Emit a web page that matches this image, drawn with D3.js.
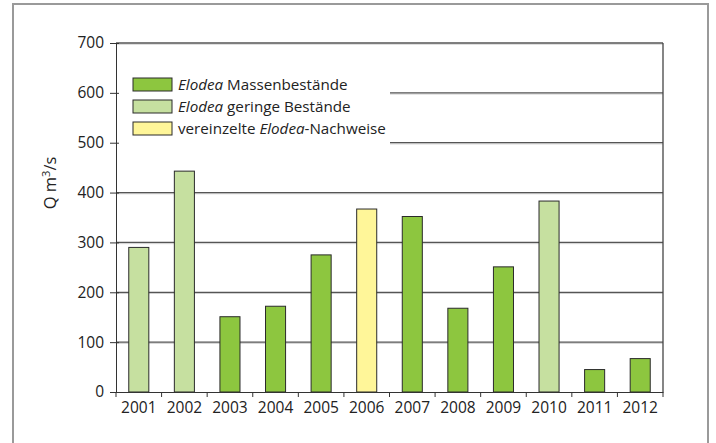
<!DOCTYPE html>
<html><head><meta charset="utf-8">
<script src="https://cdn.jsdelivr.net/npm/d3@7"></script>
<style>body{margin:0;background:#fff}svg{display:block}text{font-family:"Open Sans",sans-serif;fill:#222}</style>
</head><body><svg id="c" width="716" height="443"></svg>
<script>
const years = ["2001","2002","2003","2004","2005","2006","2007","2008","2009","2010","2011","2012"];
const values = [290, 443, 151, 172, 275, 367, 352, 168, 251, 383, 45, 67];
const categories = ["gering","gering","massen","massen","massen","vereinzelt","massen","massen","massen","gering","massen","massen"];
const yTicks = [0,100,200,300,400,500,600,700];
const legendKeys = ["massen","gering","vereinzelt"];
const colors = {massen:"#8dc63f", gering:"#c6e0a0", vereinzelt:"#fff699"};

const svg = d3.select("#c");
const L=116, R=663, T=43, B=392;
const x = d3.scaleBand().domain(years).range([L,R]).paddingInner(0.56).paddingOuter(0.28);
const y = d3.scaleLinear().domain([0,700]).range([B,T]);

// outer frame
svg.append("rect").attr("x",13).attr("y",4).attr("width",695).attr("height",460)
  .attr("fill","none").attr("stroke","#9a9a9a").attr("stroke-width",2);

// gridlines
const g = svg.append("g");
yTicks.filter(d=>d>0).forEach(d=>{
  g.append("line").attr("x1",L).attr("x2",R).attr("y1",y(d)+1.2).attr("y2",y(d)+1.2).attr("stroke","#d0d0d0").attr("stroke-width",1);
  g.append("line").attr("x1",L).attr("x2",R).attr("y1",y(d)).attr("y2",y(d)).attr("stroke","#555").attr("stroke-width",1.3);
});
// right frame
svg.append("line").attr("x1",R).attr("x2",R).attr("y1",T).attr("y2",B).attr("stroke","#444").attr("stroke-width",1.3);

// legend background
svg.append("rect").attr("x",L+1).attr("y",62).attr("width",273).attr("height",88).attr("fill","#fff");

// bars
svg.append("g").selectAll("rect").data(years).join("rect")
  .attr("x",d=>x(d)).attr("width",x.bandwidth())
  .attr("y",(d,i)=>y(values[i])).attr("height",(d,i)=>B-y(values[i]))
  .attr("fill",(d,i)=>colors[categories[i]]).attr("stroke","#2a2a2a").attr("stroke-width",1);

// axes
const ya = svg.append("g").attr("transform",`translate(${L},0)`)
  .call(d3.axisLeft(y).tickValues(yTicks).tickSize(6).tickSizeOuter(0).tickPadding(6));
ya.select(".domain").attr("stroke","#333");
ya.selectAll(".tick line").attr("stroke","#333").attr("x2",3).attr("x1",-6);
ya.selectAll("text").attr("font-size",15.5).attr("font-family","Open Sans").attr("fill","#222");

const xa = svg.append("g").attr("transform",`translate(0,${B})`)
  .call(d3.axisBottom(x).tickSize(0).tickPadding(10));
xa.select(".domain").attr("stroke","#333");
xa.selectAll("text").attr("font-size",15.5).attr("font-family","Open Sans").attr("fill","#222");
const bounds = x.domain().map(d=>x(d)-x.step()*x.paddingInner()/2).concat([R]);
svg.append("g").selectAll("line").data(bounds).join("line")
  .attr("x1",d=>d).attr("x2",d=>d).attr("y1",B).attr("y2",B+5).attr("stroke","#333");

// y label
svg.append("text").attr("transform","translate(56,183) rotate(-90)").attr("text-anchor","middle")
  .attr("font-size",16.5).html('Q m<tspan font-size="11" dy="-6">3</tspan><tspan dy="6">/s</tspan>');

// legend
const leg = svg.append("g");
const labels = [
  [["Elodea",true],[" Massenbestände",false]],
  [["Elodea",true],[" geringe Bestände",false]],
  [["vereinzelte ",false],["Elodea",true],["-Nachweise",false]]
];
legendKeys.forEach((k,i)=>{
  const yy = 78 + i*22;
  leg.append("rect").attr("x",133).attr("y",yy).attr("width",39).attr("height",13)
    .attr("fill",colors[k]).attr("stroke","#2a2a2a").attr("stroke-width",1);
  const t = leg.append("text").attr("x",178).attr("y",yy+12).attr("font-size",15.2);
  labels[i].forEach(([s,it])=>t.append("tspan").attr("font-style",it?"italic":"normal").text(s));
});
</script></body></html>
